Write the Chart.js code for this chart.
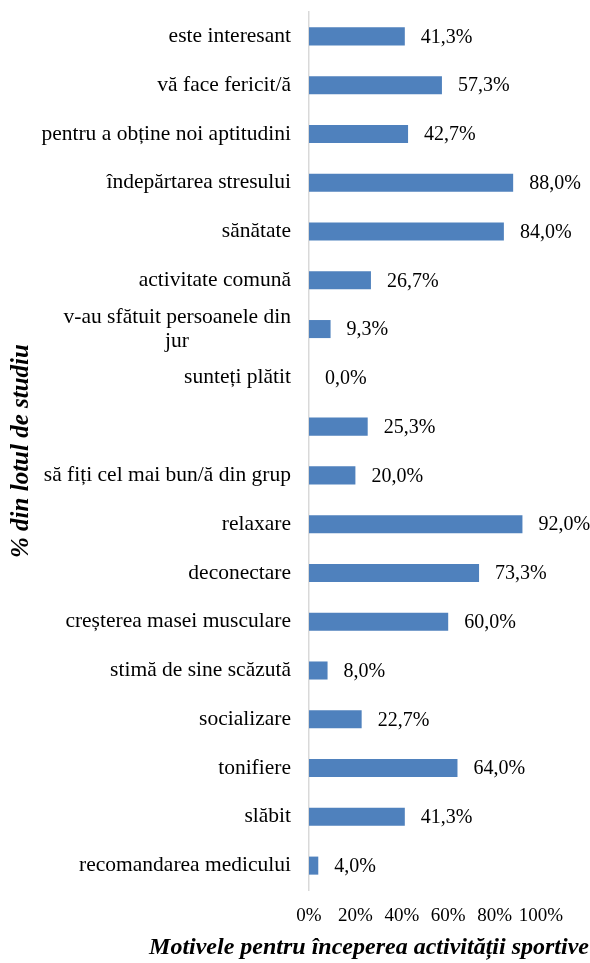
<!DOCTYPE html>
<html>
<head>
<meta charset="utf-8">
<script src="https://cdn.jsdelivr.net/npm/chart.js@4"></script>
<style>
  html, body { margin: 0; padding: 0; background: #fff; }
  #wrap { width: 590px; height: 963px; }
</style>
</head>
<body>
<div id="wrap"><canvas id="motiveChart"></canvas></div>
<script>
var categories = [
    'este interesant',
    'vă face fericit/ă',
    'pentru a obține noi aptitudini',
    'îndepărtarea stresului',
    'sănătate',
    'activitate comună',
    ['v-au sfătuit persoanele din', 'jur                   '],
    'sunteți plătit',
    '',
    'să fiți cel mai bun/ă din grup',
    'relaxare',
    'deconectare',
    'creșterea masei musculare',
    'stimă de sine scăzută',
    'socializare',
    'tonifiere',
    'slăbit',
    'recomandarea medicului'
];
var percentValues = [41.3, 57.3, 42.7, 88.0, 84.0, 26.7, 9.3, 0.0, 25.3, 20.0, 92.0, 73.3, 60.0, 8.0, 22.7, 64.0, 41.3, 4.0];
var tickValues = [0, 20, 40, 60, 80, 100];

var serif = "'Liberation Serif', 'Times New Roman', serif";

function pct(v) {
    return v.toFixed(1).replace('.', ',') + '%';
}

// value labels right of each bar + x axis title
var labelPlugin = {
    id: 'valueLabels',
    afterDatasetsDraw: function(chart) {
        var ctx = chart.ctx;
        var meta = chart.getDatasetMeta(0);
        ctx.save();
        ctx.fillStyle = '#000';
        ctx.font = '20px ' + serif;
        ctx.textAlign = 'left';
        ctx.textBaseline = 'middle';
        meta.data.forEach(function(bar, i) {
            ctx.fillText(pct(percentValues[i]), bar.x + 16, bar.y + 1);
        });
        ctx.font = 'bold italic 24px ' + serif;
        ctx.textAlign = 'center';
        ctx.fillText('Motivele pentru începerea activității sportive', 369, 948);
        ctx.restore();
    }
};

var ctx = document.getElementById('motiveChart').getContext('2d');
var chart = new Chart(ctx, {
    type: 'bar',
    data: {
        labels: categories,
        datasets: [{
            data: percentValues,
            backgroundColor: '#4f81bd',
            borderColor: '#4f81bd',
            borderWidth: 0,
            categoryPercentage: 1,
            barPercentage: 0.37
        }]
    },
    plugins: [labelPlugin],
    options: {
        indexAxis: 'y',
        responsive: true,
        maintainAspectRatio: false,
        animation: false,
        layout: { padding: { top: 12, right: 49, bottom: 0, left: 0 } },
        plugins: {
            legend: { display: false },
            tooltip: { enabled: false }
        },
        scales: {
            x: {
                min: 0,
                max: 100,
                afterBuildTicks: function(scale) {
                    scale.ticks = tickValues.map(function(v) { return { value: v }; });
                },
                grid: { display: false, drawTicks: false },
                border: { display: false },
                ticks: {
                    padding: 15,
                    autoSkip: false,
                    maxRotation: 0,
                    color: '#000',
                    font: { family: serif, size: 19 },
                    callback: function(v) { return v + '%'; }
                },
                afterFit: function(scale) {
                    scale.height = 73;
                    scale.paddingLeft = 0;
                    scale.paddingRight = 0;
                }
            },
            y: {
                grid: { display: false, drawTicks: false },
                border: { display: true, color: '#d9d9d9', width: 1.5 },
                ticks: {
                    padding: 18,
                    color: '#000',
                    font: { family: serif, size: 21.5, lineHeight: 1.1 },
                    autoSkip: false
                },
                title: {
                    display: true,
                    text: '% din lotul de studiu',
                    color: '#000',
                    font: { family: serif, size: 25, weight: 'bold', style: 'italic' },
                    padding: { top: 7, bottom: 0 }
                },
                afterFit: function(scale) {
                    scale.width = 309;
                    scale.paddingTop = 0;
                    scale.paddingBottom = 0;
                }
            }
        }
    }
});
</script>
</body>
</html>
